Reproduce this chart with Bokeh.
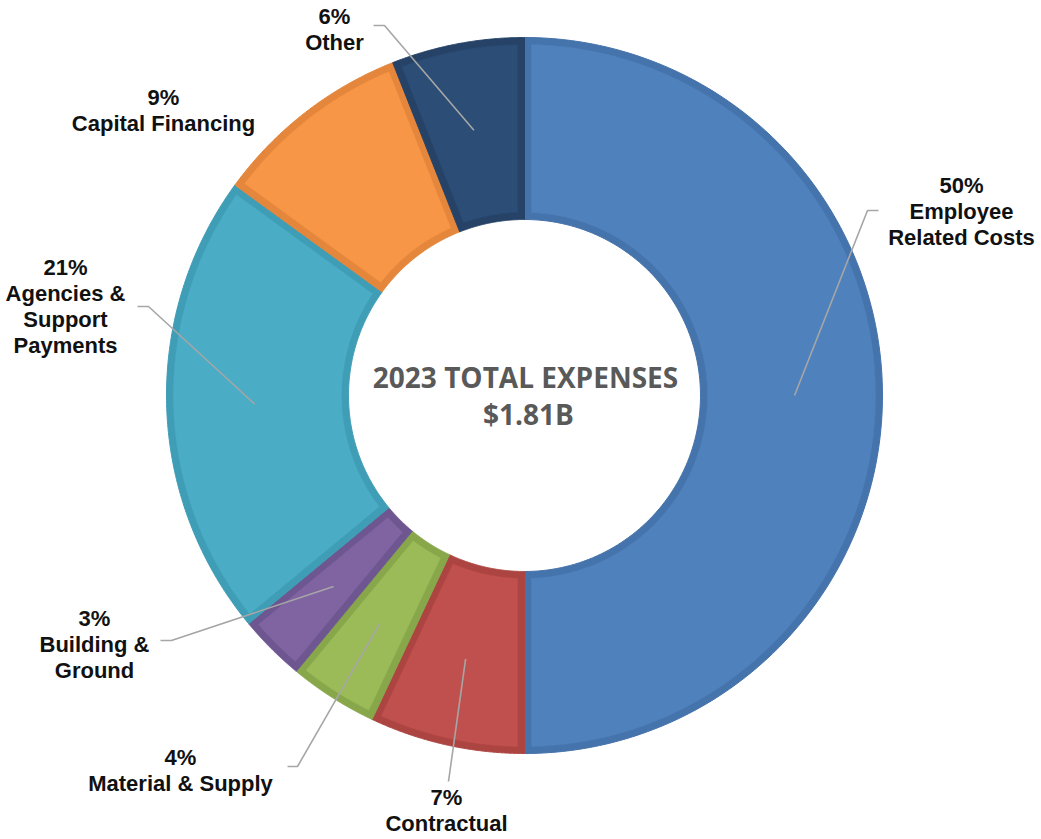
import numpy as np
from bokeh.plotting import figure
from bokeh.models import Range1d
from bokeh.core.properties import value
from bokeh.embed import file_html
from bokeh.resources import INLINE

# ---------------- data ----------------
categories = ["Employee Related Costs", "Contractual", "Material & Supply",
              "Building & Ground", "Agencies & Support Payments",
              "Capital Financing", "Other"]
label_text = ["Employee\nRelated Costs", "Contractual", "Material & Supply",
              "Building &\nGround", "Agencies &\nSupport\nPayments",
              "Capital Financing", "Other"]
percents = [50, 7, 4, 3, 21, 9, 6]
title_lines = ["2023 TOTAL EXPENSES", "$1.81B"]

fills = ["#4F81BD", "#C0504D", "#9BBB59", "#8064A2", "#4BACC6", "#F79646", "#2C4D75"]
borders = ["#4573AB", "#AC4441", "#87A74A", "#6E5690", "#3F9DB6", "#E4863B", "#264367"]

# ---------------- layout ----------------
W, H = 1041, 839


def Y(y):
    return H - y


def X(x):
    return x


CX, CY = X(524), Y(395)
R_OUT, R_IN = 358, 176
INSET = 7
LEADER_R = 270
LINE_H = 26
FONT_PX = "22px"

# label anchor: (center x, first-line y) in page pixels
label_pos = [(961, 185), (446, 797), (180, 757), (94, 618), (65, 267), (163, 97), (334, 16)]
# leader elbow points (page pixels), from label side towards the slice
elbows = [[(878, 210), (867, 210)], [(448, 781)], [(287, 766), (297, 766)],
          [(160, 640), (171, 640)], [(137, 306), (148, 306)], None,
          [(373, 25), (384, 25)]]

p = figure(width=W, height=H, output_backend="svg", toolbar_location=None,
           x_range=Range1d(0, W), y_range=Range1d(0, H), min_border=0)
p.axis.visible = False
p.grid.visible = False
p.outline_line_color = None
p.background_fill_color = "white"
p.border_fill_color = "white"

frac = np.array(percents, dtype=float) / sum(percents)
cum = np.concatenate([[0], np.cumsum(frac)])
start_ang = np.pi / 2 - 2 * np.pi * cum[:-1]
end_ang = np.pi / 2 - 2 * np.pi * cum[1:]
mid_ang = (start_ang + end_ang) / 2


def sector(a0, a1, r_in, r_out, d=0.0, n=120):
    ro, ri = r_out - d, r_in + d
    do, di = np.arcsin(d / ro), np.arcsin(d / ri)
    ta = np.linspace(a0 - do, a1 + do, n)
    tb = np.linspace(a1 + di, a0 - di, n)
    xs = np.concatenate([CX + ro * np.cos(ta), CX + ri * np.cos(tb)])
    ys = np.concatenate([CY + ro * np.sin(ta), CY + ri * np.sin(tb)])
    return list(xs), list(ys)


outer_x, outer_y, inner_x, inner_y = [], [], [], []
for a0, a1 in zip(start_ang, end_ang):
    xs, ys = sector(a0, a1, R_IN, R_OUT)
    outer_x.append(xs); outer_y.append(ys)
    xs, ys = sector(a0, a1, R_IN, R_OUT, INSET)
    inner_x.append(xs); inner_y.append(ys)

p.patches(outer_x, outer_y, fill_color=borders, line_color=borders, line_width=1)
p.patches(inner_x, inner_y, fill_color=fills, line_color=fills, line_width=0.5)

# leader lines
lx, ly = [], []
for i, el in enumerate(elbows):
    if el is None:
        continue
    px = CX + LEADER_R * np.cos(mid_ang[i])
    py = CY + LEADER_R * np.sin(mid_ang[i])
    xs = [X(e[0]) for e in el] + [px]
    ys = [Y(e[1]) for e in el] + [py]
    lx.append(xs); ly.append(ys)
p.multi_line(lx, ly, line_color="#A6A6A6", line_width=1.6)

# labels
tx, ty, tt = [], [], []
for i, (pct, lab) in enumerate(zip(percents, label_text)):
    lines = [f"{pct}%"] + lab.split("\n")
    x0, y0 = label_pos[i]
    for k, ln in enumerate(lines):
        tx.append(X(x0)); ty.append(Y(y0 + k * LINE_H)); tt.append(ln)
p.text(x=tx, y=ty, text=tt, text_align="center", text_baseline="middle",
       text_font=value("Liberation Sans"), text_font_style="bold",
       text_font_size=FONT_PX, text_color="#111111")

# center title
p.text(x=[CX + 1, CX + 4], y=[Y(376), Y(413)], text=title_lines,
       text_align="center", text_baseline="middle",
       text_font=value("Open Sans"), text_font_style="bold",
       text_font_size="28px", text_color="#595959")

open("out.html", "w").write(file_html(p, INLINE))
